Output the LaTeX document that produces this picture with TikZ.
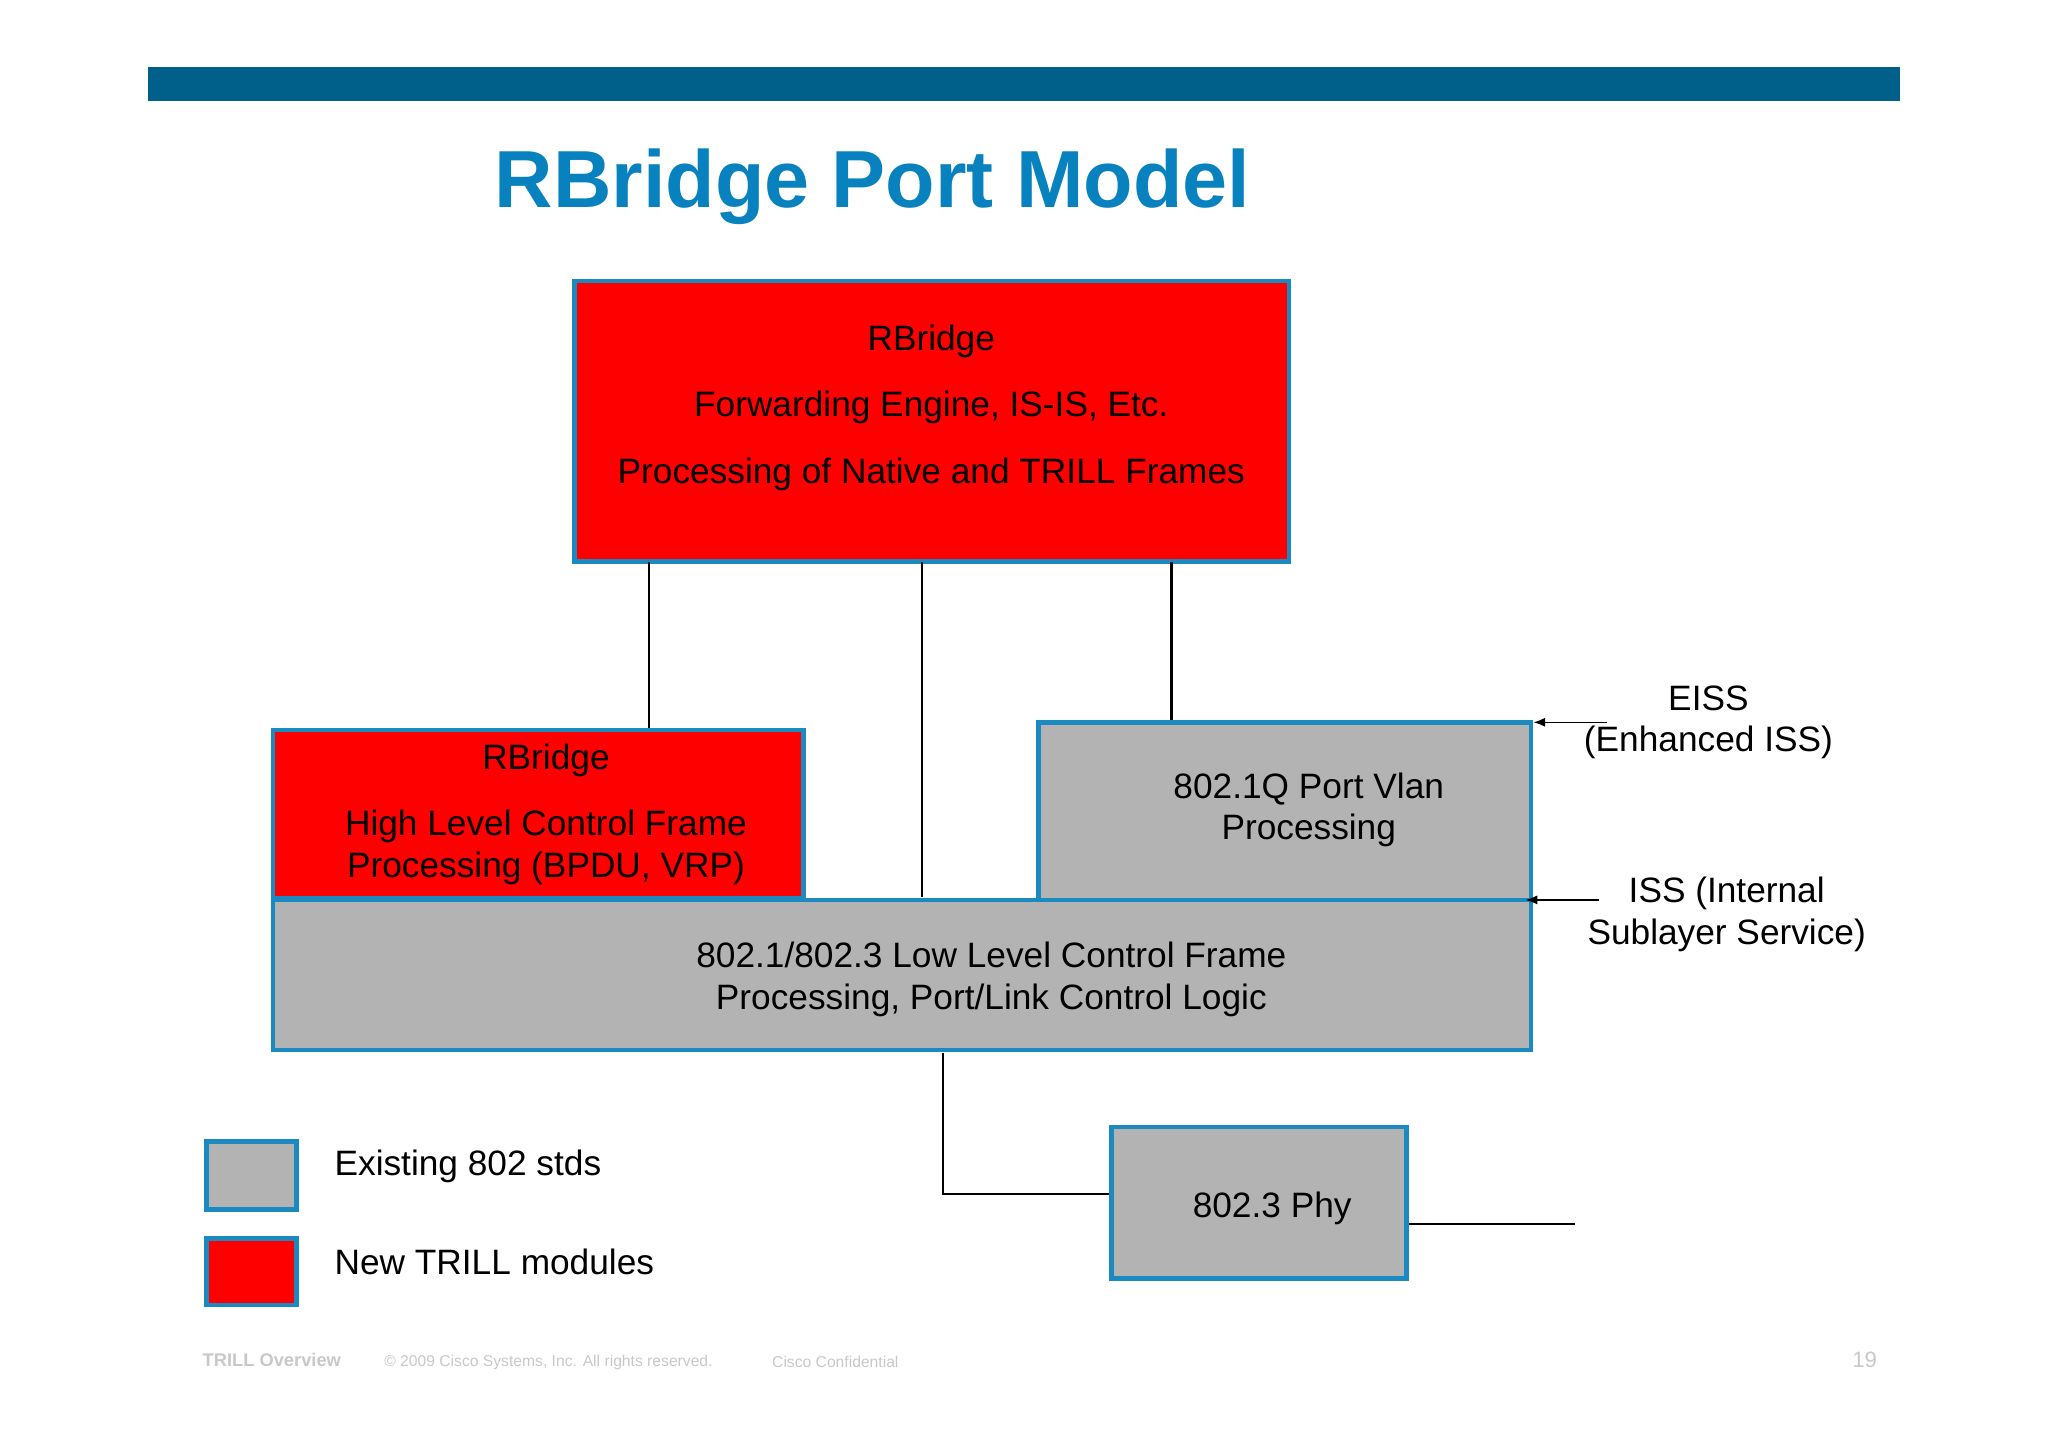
\documentclass[tikz,border=0pt]{standalone}
\usepackage{fontspec}
\setmainfont{Liberation Sans}
\usetikzlibrary{arrows.meta}
\definecolor{bar}{RGB}{0,96,137}
\definecolor{ttl}{RGB}{8,130,190}
\definecolor{bord}{RGB}{27,138,192}
\definecolor{gr}{RGB}{179,179,179}
\definecolor{foot}{RGB}{200,200,200}
\tikzset{
 box/.style={draw=bord,line width=3.5pt},
 red/.style={box,fill=red},
 grey/.style={box,fill=gr},
 txt/.style={font=\fontsize{27}{32}\selectfont,align=center,inner sep=0},
 ln/.style={line width=2pt},
 ft/.style={font=\fontsize{12}{14}\selectfont,text=foot,anchor=west,inner sep=0}
}
\begin{document}
\begin{tikzpicture}[x=1pt,y=-1pt]
\useasboundingbox (0,0) rectangle (1568,1108);
\fill[bar] (113,51) rectangle (1455,77);
\node[font=\fontsize{62}{70}\selectfont\bfseries,text=ttl,inner sep=0] (title) at (668,143) {RBridge Port Model};
\draw[red] (440,215) rectangle (987,430);
\node[txt] (t1) at (713,261) {RBridge};
\node[txt] (t2) at (713,312) {Forwarding Engine, IS-IS, Etc.};
\node[txt] (t3) at (713,363) {Processing of Native and TRILL Frames};
\draw[red] (209,559) rectangle (615,688);
\node[txt] (l1) at (418,582) {RBridge};
\node[txt] (l2) at (418,649) {High Level Control Frame\\Processing (BPDU, VRP)};
\draw[grey] (795,553) rectangle (1172,689);
\node[txt] (r1) at (1002,620) {802.1Q Port Vlan\\Processing};
\draw[grey] (209,689) rectangle (1172,804);
\node[txt] (b1) at (759,750) {802.1/802.3 Low Level Control Frame\\Processing, Port/Link Control Logic};
\draw[grey] (851,863) rectangle (1077,979);
\node[txt] (phy) at (974,925) {802.3 Phy};
\coordinate (a1) at (497,430); \coordinate (a2) at (497,557);
\coordinate (b1a) at (706,430); \coordinate (b2) at (706,687);
\coordinate (c1) at (897,430); \coordinate (c2) at (897,551);
\draw[ln] (a1) -- (a2); \draw[ln] (b1a) -- (b2); \draw[ln] (c1) -- (c2);
\coordinate (d1) at (722,806); \coordinate (d2) at (722,914); \coordinate (d3) at (849,914);
\draw[ln] (d1) -- (d2) -- (d3);
\coordinate (e1) at (1079,937); \coordinate (e2) at (1206,937);
\draw[ln] (e1) -- (e2);
\coordinate (f1) at (1230,553); \coordinate (f2) at (1174,553);
\draw[line width=1.2pt,-{Latex[length=9pt,width=7pt]}] (f1) -- (f2);
\coordinate (g1) at (1224,689); \coordinate (g2) at (1168,689);
\draw[line width=1.2pt,-{Latex[length=9pt,width=7pt]}] (g1) -- (g2);
\node[txt] (eiss) at (1308,553) {EISS\\(Enhanced ISS)};
\node[txt] (iss) at (1322,700) {ISS (Internal\\Sublayer Service)};
\draw[grey] (158,874) rectangle (227,926);
\draw[red] (158,948) rectangle (227,999);
\node[txt,anchor=west] (lg1) at (256,893) {Existing 802 stds};
\node[txt,anchor=west] (lg2) at (256,966) {New TRILL modules};
\node[ft,font=\fontsize{14}{16}\selectfont\bfseries] (f1n) at (155,1041) {TRILL Overview};
\node[ft] (f2n) at (294,1043) {© 2009 Cisco Systems, Inc. All rights reserved.};
\node[ft] (f3n) at (591,1043) {Cisco Confidential};
\node[ft,font=\fontsize{17}{19}\selectfont] (f4n) at (1418,1041) {19};
\end{tikzpicture}
\end{document}
